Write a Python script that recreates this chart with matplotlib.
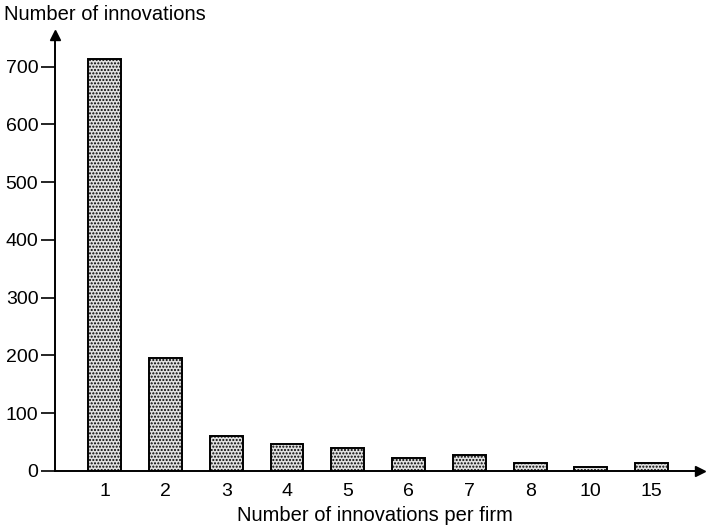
import matplotlib.pyplot as plt

plt.rcParams['font.family'] = ['Liberation Sans', 'DejaVu Sans']

# innovations per firm (categories) and number of innovations
firm_counts = ['1', '2', '3', '4', '5', '6', '7', '8', '10', '15']
innovations = [713, 195, 60, 47, 39, 22, 27, 13, 7, 14]
yticks = [0, 100, 200, 300, 400, 500, 600, 700]

fig = plt.figure(figsize=(7.09, 5.28), dpi=100)
ax = fig.add_axes([0.0776, 0.108, 0.91, 0.826])

pos = list(range(len(firm_counts)))
ax.bar(pos, innovations, width=0.54, color='#e0e0e0', edgecolor='black',
       linewidth=1.4, hatch='.....')

ax.set_xlim(-0.82, 9.8)
ax.set_ylim(0, 755)
ax.set_xticks(pos)
ax.set_xticklabels(firm_counts, fontsize=14)
ax.set_yticks(yticks)
ax.set_yticklabels([str(v) for v in yticks], fontsize=14)
ax.tick_params(axis='x', length=0, pad=9)
ax.tick_params(axis='y', length=10, width=1.2, direction='out', pad=2)

for s in ['top', 'right']:
    ax.spines[s].set_visible(False)
for s in ['left', 'bottom']:
    ax.spines[s].set_linewidth(1.4)

# arrow heads on the axes
ax.plot(1, 0, '>k', markersize=7, transform=ax.transAxes, clip_on=False)
ax.plot(0, 1, '^k', markersize=7, transform=ax.transAxes, clip_on=False)

fig.text(0.006, 0.972, 'Number of innovations', fontsize=14.5, va='center', ha='left')
fig.text(0.529, 0.024, 'Number of innovations per firm', fontsize=14.5, va='center', ha='center')

fig.savefig('out.png', dpi=100)
